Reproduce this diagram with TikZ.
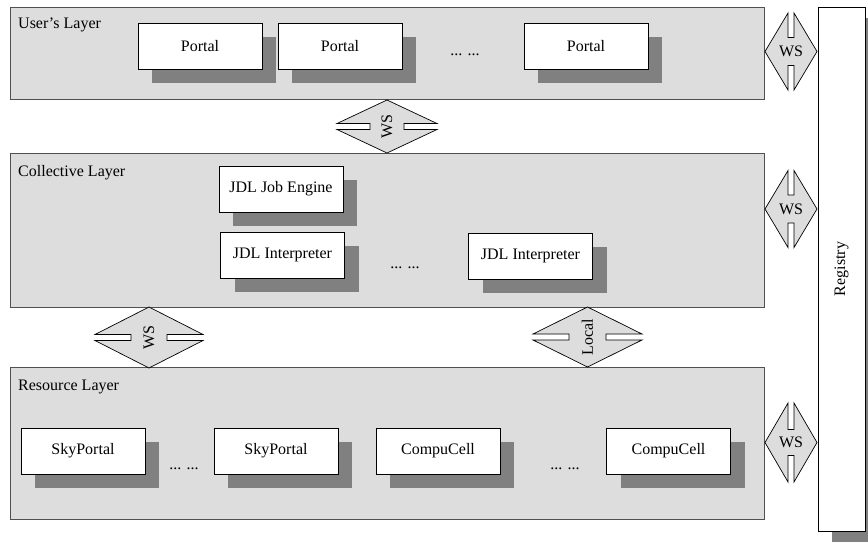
\documentclass[tikz,border=0pt]{standalone}
\usepackage{fontspec}
\setmainfont{Liberation Serif}
\usetikzlibrary{shadows}
\definecolor{layerfill}{HTML}{DDDDDD}
\definecolor{layerline}{HTML}{505050}
\definecolor{shadowgray}{HTML}{808080}
\tikzset{
  txt/.style={font=\fontsize{16}{19}\selectfont, inner sep=0pt},
  layer/.style={draw=layerline, fill=layerfill, line width=0.9pt, anchor=north west, inner sep=0pt},
  comp/.style={txt, draw=black, fill=white, line width=0.8pt, minimum width=124, minimum height=46,
    drop shadow={shadow xshift=14pt, shadow yshift=-14pt, fill=shadowgray, opacity=1}},
  diam/.style={draw=black, fill=layerfill, line width=0.7pt, line join=miter},
  dots/.style={txt, anchor=base}
}
% horizontal diamond: name, center, half width, half height, inner gap, text
\newcommand{\HDiam}[6]{%
  \begin{scope}[shift={#2}]
    \draw[diam] (-#3,-3) -- (0,-#4) -- (#3,-3) -- (#5,-3) -- (#5,3) -- (#3,3) -- (0,#4) -- (-#3,3) -- (-#5,3) -- (-#5,-3) -- cycle;
    \node[txt, rotate=90] (#1) at (0,0) {#6};
  \end{scope}}
% vertical diamond: name, center, half width, half height, inner gap, text
\newcommand{\VDiam}[6]{%
  \begin{scope}[shift={#2}]
    \draw[diam] (-3,-#4) -- (-3,-#5) -- (3,-#5) -- (3,-#4) -- (#3,0) -- (3,#4) -- (3,#5) -- (-3,#5) -- (-3,#4) -- (-#3,0) -- cycle;
    \node[txt] (#1) at (0,0) {#6};
  \end{scope}}
\begin{document}
\begin{tikzpicture}[x=1pt, y=-1pt]
\useasboundingbox (0,0) rectangle (868,542);
\fill[white] (0,0) rectangle (868,542);
% layers
\node[layer, minimum width=754, minimum height=92] (user) at (10,7) {};
\node[layer, minimum width=754, minimum height=154] (coll) at (10,153) {};
\node[layer, minimum width=754, minimum height=152] (res) at (10,367) {};
\node[txt, anchor=base west] (userlbl) at (18,28) {User's Layer};
\node[txt, anchor=base west] (colllbl) at (18,176) {Collective Layer};
\node[txt, anchor=base west] (reslbl) at (18,390) {Resource Layer};
% registry
\node[txt, draw=black, fill=white, line width=0.8pt, minimum width=47, minimum height=524,
  drop shadow={shadow xshift=14pt, shadow yshift=-11pt, fill=shadowgray, opacity=1}] (reg) at (841.5,269) {};
\node[txt, rotate=90] (reglbl) at (reg.center) {Registry};
% user layer components
\node[comp] (p1) at (200,46) {Portal};
\node[comp] (p2) at (340,46) {Portal};
\node[comp] (p3) at (586,46) {Portal};
\node[dots] (d1) at (465,55) {... ...};
% collective layer components
\node[comp] (eng) at (281,189) {JDL Job Engine};
\node[comp] (int1) at (282.5,255) {JDL Interpreter};
\node[comp] (int2) at (530.5,256) {JDL Interpreter};
\node[dots] (d2) at (405,268) {... ...};
% resource layer components
\node[comp] (sky1) at (83,451) {SkyPortal};
\node[comp] (sky2) at (276,451) {SkyPortal};
\node[comp] (cc1) at (438,451) {CompuCell};
\node[comp] (cc2) at (668.5,451) {CompuCell};
\node[dots] (d3) at (184,469) {... ...};
\node[dots] (d4) at (565,469) {... ...};
% interfaces
\HDiam{ws1}{(387,126.5)}{50}{26.5}{17}{WS}
\HDiam{ws2}{(149,337.5)}{54}{30.5}{18}{WS}
\HDiam{loc}{(587.5,337)}{54.5}{30}{18.5}{Local}
\VDiam{wsr1}{(791,51.5)}{26}{38.5}{14}{WS}
\VDiam{wsr2}{(791,209)}{26}{38.5}{14}{WS}
\VDiam{wsr3}{(791,442.5)}{26}{39.5}{13}{WS}
\end{tikzpicture}
\end{document}
